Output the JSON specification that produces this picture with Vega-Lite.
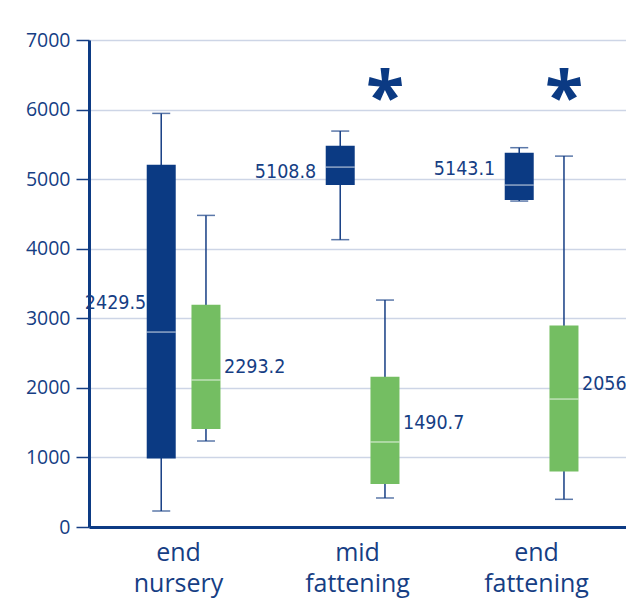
{
  "$schema": "https://vega.github.io/schema/vega-lite/v6.json",
  "autosize": {"type": "none"},
  "padding": {"left": 89, "top": 40, "right": 0, "bottom": 77},
  "width": 537,
  "height": 487,
  "background": "white",
  "config": {
    "view": {"stroke": null},
    "font": "Open Sans"
  },
  "data": {
    "values": [
      {"stage": "end nursery", "series": "a", "min": 230, "q1": 983, "median": 2802, "q3": 5208, "max": 5945, "mean": 2429.5, "label": "2429.5", "sig": ""},
      {"stage": "end nursery", "series": "b", "min": 1236, "q1": 1409, "median": 2113, "q3": 3196, "max": 4479, "mean": 2293.2, "label": "2293.2", "sig": ""},
      {"stage": "mid fattening", "series": "a", "min": 4130, "q1": 4915, "median": 5173, "q3": 5481, "max": 5691, "mean": 5108.8, "label": "5108.8", "sig": ""},
      {"stage": "mid fattening", "series": "b", "min": 417, "q1": 618, "median": 1222, "q3": 2161, "max": 3262, "mean": 1490.7, "label": "1490.7", "sig": "*"},
      {"stage": "end fattening", "series": "a", "min": 4685, "q1": 4699, "median": 4915, "q3": 5380, "max": 5452, "mean": 5143.1, "label": "5143.1", "sig": ""},
      {"stage": "end fattening", "series": "b", "min": 398, "q1": 796, "median": 1839, "q3": 2898, "max": 5331, "mean": 2056.3, "label": "2056.3", "sig": "*"}
    ]
  },
  "encoding": {
    "x": {
      "field": "stage", "type": "nominal",
      "sort": ["end nursery", "mid fattening", "end fattening"],
      "scale": {"paddingInner": 0, "paddingOuter": 0},
      "axis": {
        "title": null,
        "labelAngle": 0,
        "labelExpr": "split(datum.label, ' ')",
        "labelFont": "Open Sans",
        "labelFontSize": 25,
        "labelLineHeight": 31,
        "labelColor": "#163e84",
        "labelPadding": 13,
        "ticks": false,
        "domainColor": "#0d3b84",
        "domainWidth": 3,
        "grid": false
      }
    },
    "xOffset": {
      "field": "series", "type": "nominal",
      "scale": {"domain": ["a", "b"], "paddingInner": 0, "paddingOuter": 1.797, "align": 0.557}
    }
  },
  "layer": [
    {
      "mark": {"type": "rule", "color": "#163e84", "strokeWidth": 1.5},
      "encoding": {
        "y": {
          "field": "min", "type": "quantitative",
          "scale": {"domain": [0, 7000], "nice": false},
          "axis": {
            "title": null,
            "values": [0, 1000, 2000, 3000, 4000, 5000, 6000, 7000],
            "format": "d",
            "labelFont": "Open Sans",
            "labelFontSize": 19.5,
            "labelColor": "#163e84",
            "labelPadding": 6,
            "tickSize": 13,
            "tickColor": "#163e84",
            "tickWidth": 1.5,
            "domainColor": "#0d3b84",
            "domainWidth": 3,
            "grid": true,
            "gridColor": "#cdd5e6",
            "gridWidth": 1.5
          }
        },
        "y2": {"field": "max"}
      }
    },
    {
      "mark": {"type": "tick", "color": "#163e84", "thickness": 1.5, "size": 18, "orient": "horizontal"},
      "encoding": {"y": {"field": "min", "type": "quantitative"}}
    },
    {
      "mark": {"type": "tick", "color": "#163e84", "thickness": 1.5, "size": 18, "orient": "horizontal"},
      "encoding": {"y": {"field": "max", "type": "quantitative"}}
    },
    {
      "mark": {"type": "bar", "width": 29},
      "encoding": {
        "y": {"field": "q1", "type": "quantitative"},
        "y2": {"field": "q3"},
        "color": {
          "field": "series", "type": "nominal",
          "scale": {"domain": ["a", "b"], "range": ["#0b3a83", "#74be62"]},
          "legend": null
        }
      }
    },
    {
      "mark": {"type": "tick", "color": "white", "opacity": 0.55, "thickness": 1.5, "size": 29, "orient": "horizontal"},
      "encoding": {"y": {"field": "median", "type": "quantitative"}}
    },
    {
      "transform": [{"filter": "datum.series == 'a' && datum.stage != 'end nursery'"}],
      "mark": {"type": "text", "align": "right", "baseline": "middle", "dx": -24, "font": "DejaVu Sans Condensed, Roboto Condensed, Roboto, sans-serif", "fontSize": 19.5, "color": "#163e84"},
      "encoding": {"y": {"field": "mean", "type": "quantitative"}, "text": {"field": "label"}}
    },
    {
      "transform": [{"filter": "datum.series == 'a' && datum.stage == 'end nursery'"}],
      "mark": {"type": "text", "align": "right", "baseline": "middle", "dx": -15, "dy": -55, "font": "DejaVu Sans Condensed, Roboto Condensed, Roboto, sans-serif", "fontSize": 19.5, "color": "#163e84"},
      "encoding": {"y": {"field": "mean", "type": "quantitative"}, "text": {"field": "label"}}
    },
    {
      "transform": [{"filter": "datum.series == 'b'"}],
      "mark": {"type": "text", "align": "left", "baseline": "middle", "dx": 18, "font": "DejaVu Sans Condensed, Roboto Condensed, Roboto, sans-serif", "fontSize": 19.5, "color": "#163e84"},
      "encoding": {"y": {"field": "mean", "type": "quantitative"}, "text": {"field": "label"}}
    },
    {
      "transform": [{"filter": "datum.sig != ''"}],
      "mark": {"type": "text", "align": "center", "baseline": "middle", "font": "Open Sans", "fontWeight": "bold", "fontSize": 70, "color": "#0b3a83", "dy": 11},
      "encoding": {"y": {"datum": 6300}, "text": {"field": "sig"}}
    }
  ]
}
